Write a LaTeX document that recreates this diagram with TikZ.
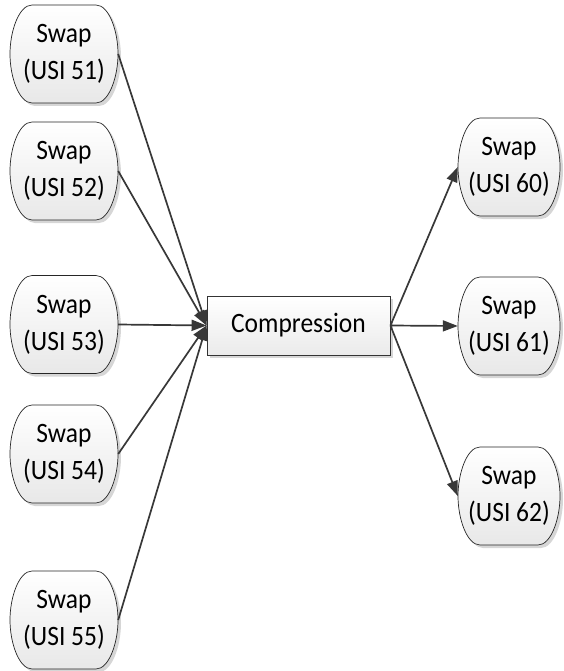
\documentclass[tikz,border=0pt]{standalone}
\usepackage{fontspec}
\usepackage{graphicx}
\setmainfont{Carlito}
\usetikzlibrary{arrows.meta,calc,backgrounds,shadows}
\newcommand\vst[1]{\scalebox{1}[1.1]{#1}}
\newcommand\swapoutline[2]{({-(#1)+22},#2) -- ({#1-22},#2) .. controls ({#1-9},#2) and (#1,{#2-26}) .. (#1,0) .. controls (#1,{-(#2)+26}) and ({#1-9},-#2) .. ({#1-22},-#2) -- ({-(#1)+22},-#2) .. controls ({-(#1)+9},-#2) and (-#1,{-(#2)+26}) .. (-#1,0) .. controls (-#1,{#2-26}) and ({-(#1)+9},#2) .. ({-(#1)+22},#2) -- cycle}
\newcommand\swapbg[3]{%
  \fill[shadowcol, shift={($(#1.center)+(3,-3)$)}] \swapoutline{#2}{#3};
  \draw[swapbody, shift={(#1.center)}] \swapoutline{#2}{#3};
}
\colorlet{shadowcol}{black!16}
\colorlet{linecol}{black!78}
\tikzset{
  txt/.style={font=\fontsize{25.5}{37}\selectfont},
  swapnode/.style={txt, align=center, inner sep=0pt, minimum height=98pt},
  swapbody/.style={draw=black!85, line width=0.7pt, top color=white, bottom color=black!9},
  procbox/.style={txt, draw=black!80, line width=0.9pt, top color=white, bottom color=black!8,
    minimum width=183pt, minimum height=59pt, inner sep=0pt,
    drop shadow={shadow xshift=3pt, shadow yshift=-3pt, fill=shadowcol, opacity=1}},
  conn/.style={draw=linecol, line width=1.7pt, -{Triangle[length=15pt,width=11pt]}}
}
\begin{document}
\begin{tikzpicture}[x=1pt,y=1pt]
\useasboundingbox (0,0) rectangle (563,-671);
\node[swapnode, minimum width=108pt] (s51) at (64,-54) {\vst{Swap}\\\vst{(USI 51)}};
\node[swapnode, minimum width=108pt] (s52) at (64,-171) {\vst{Swap}\\\vst{(USI 52)}};
\node[swapnode, minimum width=108pt] (s53) at (64,-324.5) {\vst{Swap}\\\vst{(USI 53)}};
\node[swapnode, minimum width=108pt] (s54) at (64,-454) {\vst{Swap}\\\vst{(USI 54)}};
\node[swapnode, minimum width=108pt] (s55) at (64,-620) {\vst{Swap}\\\vst{(USI 55)}};
\node[swapnode, minimum width=102pt] (s60) at (509,-167) {\vst{Swap}\\\vst{(USI 60)}};
\node[swapnode, minimum width=102pt] (s61) at (509,-326) {\vst{Swap}\\\vst{(USI 61)}};
\node[swapnode, minimum width=102pt] (s62) at (509,-496) {\vst{Swap}\\\vst{(USI 62)}};
\node[procbox] (comp) at (298.5,-325.5) {\vst{Compression}};
\begin{scope}[on background layer]
\swapbg{s51}{54}{49}
\swapbg{s52}{54}{49}
\swapbg{s53}{54}{49}
\swapbg{s54}{54}{49}
\swapbg{s55}{54}{49}
\swapbg{s60}{51}{49}
\swapbg{s61}{51}{49}
\swapbg{s62}{51}{49}
\end{scope}
\draw[conn] (s51.east) -- (comp.west);
\draw[conn] (s52.east) -- (comp.west);
\draw[conn] (s53.east) -- (comp.west);
\draw[conn] (s54.east) -- (comp.west);
\draw[conn] (s55.east) -- (comp.west);
\draw[conn] (comp.east) -- (s60.west);
\draw[conn] (comp.east) -- (s61.west);
\draw[conn] (comp.east) -- (s62.west);
\end{tikzpicture}
\end{document}
